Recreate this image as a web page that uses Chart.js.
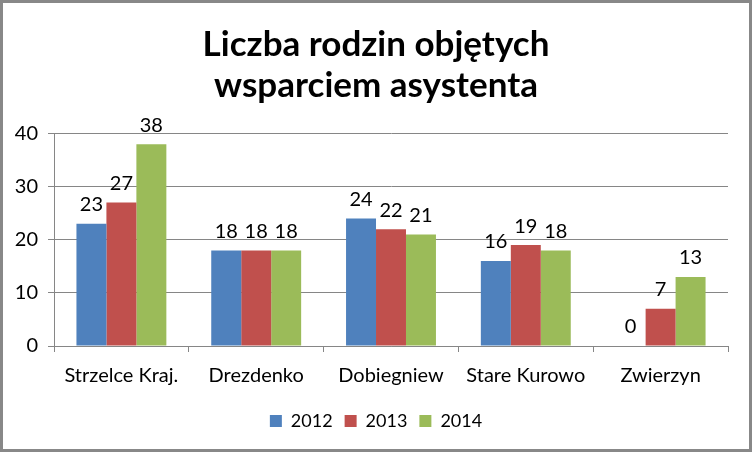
<!DOCTYPE html>
<html lang="pl">
<head>
<meta charset="UTF-8">
<title>Liczba rodzin objętych wsparciem asystenta</title>
<script src="https://cdn.jsdelivr.net/npm/chart.js"></script>
<style>
  html, body { margin: 0; padding: 0; background: #fff; }
  #wrap { width: 752px; height: 452px; }
</style>
</head>
<body>
<div id="wrap"><canvas id="chart" width="752" height="452"></canvas></div>
<script>
const categories = ['Strzelce Kraj.', 'Drezdenko', 'Dobiegniew', 'Stare Kurowo', 'Zwierzyn'];
const years = ['2012', '2013', '2014'];
const values2012 = [23, 18, 24, 16, 0];
const values2013 = [27, 18, 22, 19, 7];
const values2014 = [38, 18, 21, 18, 13];
const colors = ['#4F81BD', '#C0504D', '#9BBB59'];

const FONT = 'Lato, "Noto Sans", sans-serif';
const gridColor = '#868686';

// value labels above bars
const barLabels = {
  id: 'barLabels',
  afterDatasetsDraw(chart) {
    const ctx = chart.ctx;
    ctx.save();
    ctx.font = '20px ' + FONT;
    ctx.fillStyle = '#000';
    ctx.textAlign = 'center';
    ctx.textBaseline = 'middle';
    chart.data.datasets.forEach((ds, i) => {
      chart.getDatasetMeta(i).data.forEach((bar, j) => {
        ctx.fillText(String(ds.data[j]), bar.x, bar.y - 19);
      });
    });
    ctx.restore();
  }
};

// frame around the whole picture
const frame = {
  id: 'frame',
  afterDraw(chart) {
    const ctx = chart.ctx;
    ctx.save();
    ctx.strokeStyle = '#888888';
    ctx.lineWidth = 3;
    ctx.strokeRect(1.5, 1.5, chart.width - 3, chart.height - 3);
    ctx.restore();
  }
};

new Chart(document.getElementById('chart'), {
  type: 'bar',
  data: {
    labels: categories,
    datasets: [
      { label: years[0], data: values2012, backgroundColor: colors[0] },
      { label: years[1], data: values2013, backgroundColor: colors[1] },
      { label: years[2], data: values2014, backgroundColor: colors[2] }
    ]
  },
  options: {
    responsive: false,
    animation: false,
    layout: { padding: { left: 0, right: 0, top: 0, bottom: 12 } },
    datasets: { bar: { barPercentage: 1, categoryPercentage: 0.667 } },
    plugins: {
      title: {
        display: true,
        text: ['Liczba rodzin objętych', 'wsparciem asystenta'],
        color: '#000',
        font: { family: FONT, size: 35, weight: 'bold', lineHeight: 1.15 },
        padding: { top: 25, bottom: 28 }
      },
      legend: {
        position: 'bottom',
        labels: {
          color: '#000',
          font: { family: FONT, size: 18 },
          boxWidth: 12,
          boxHeight: 12,
          padding: 12
        }
      },
      tooltip: { enabled: false }
    },
    scales: {
      x: {
        grid: { display: true, drawOnChartArea: false, color: gridColor, tickLength: 6, offset: true },
        border: { color: gridColor },
        ticks: { color: '#000', font: { family: FONT, size: 20 }, padding: 12 }
      },
      y: {
        min: 0,
        max: 40,
        ticks: { stepSize: 10, color: '#000', font: { family: FONT, size: 20 }, padding: 10 },
        grid: { color: gridColor, tickLength: 6 },
        border: { color: gridColor },
        afterFit(scale) { scale.width = 54; }
      },
      // empty spacer on the right so the title and legend stay centred on the picture
      spacer: {
        type: 'linear',
        position: 'right',
        display: true,
        ticks: { display: false },
        grid: { display: false },
        border: { display: false },
        afterFit(scale) { scale.width = 24; }
      }
    }
  },
  plugins: [barLabels, frame]
});
</script>
</body>
</html>
